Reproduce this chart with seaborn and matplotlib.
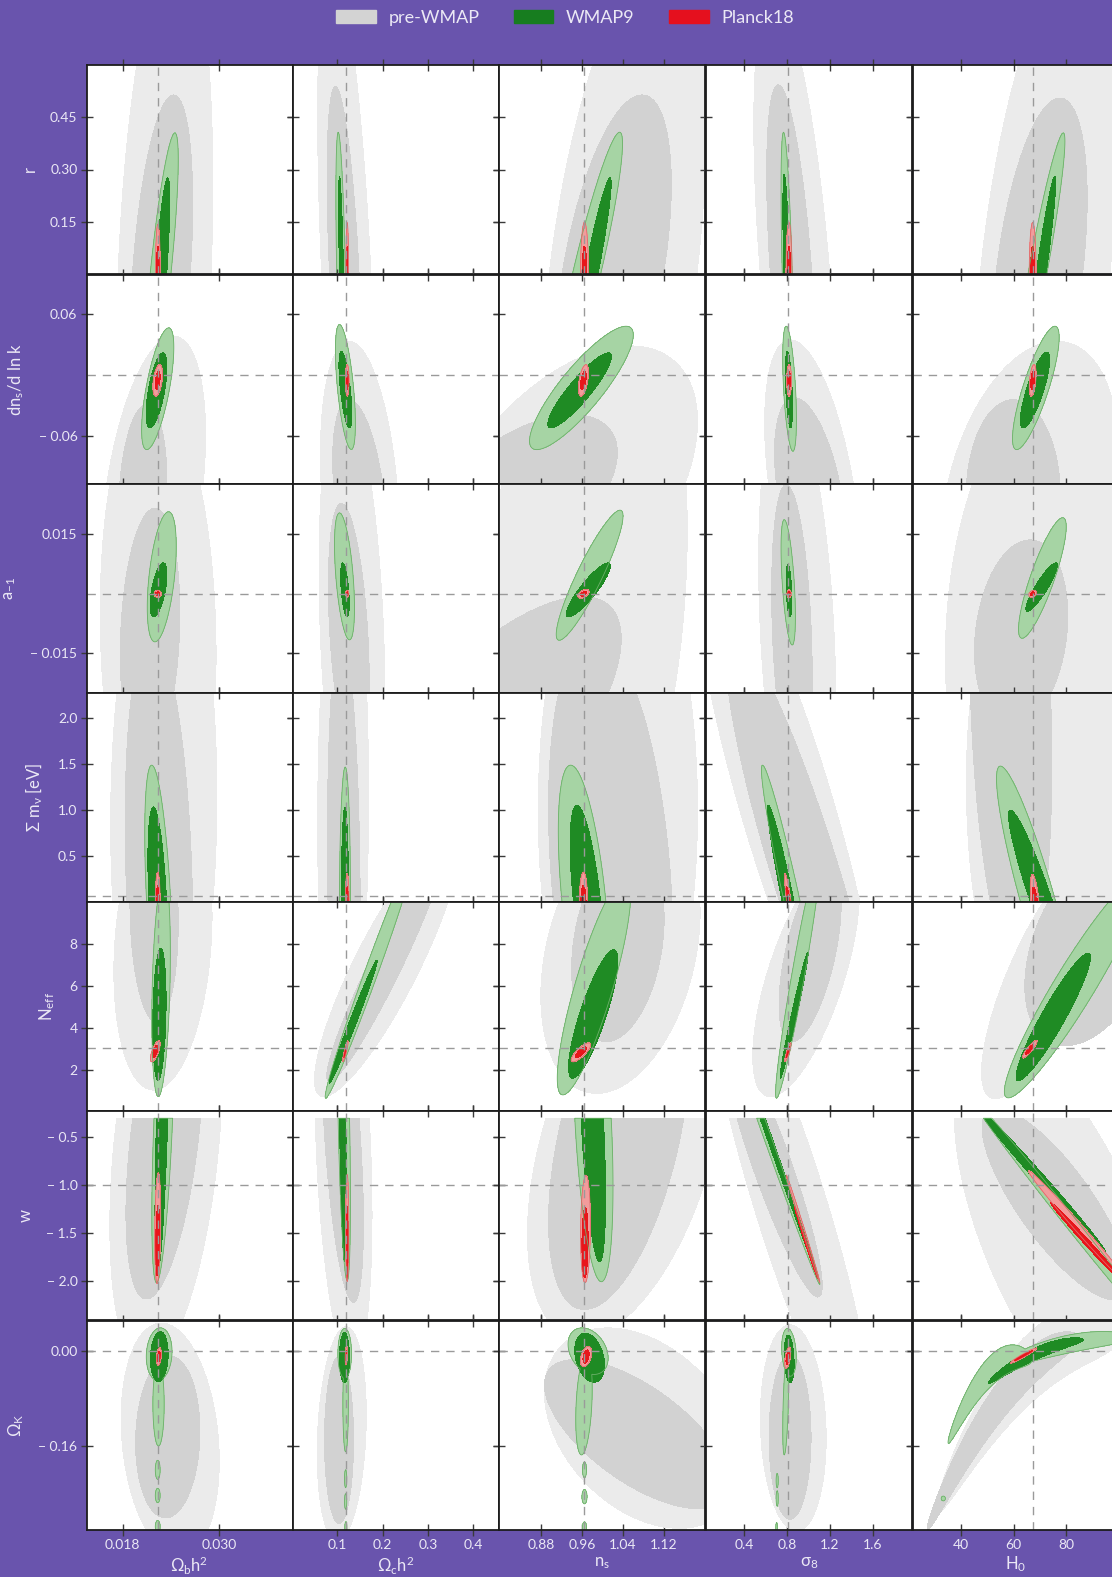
import numpy as np
import matplotlib
matplotlib.use("Agg")
import matplotlib.pyplot as plt
from matplotlib.patches import Patch
import seaborn as sns

# ---------------- data ----------------
X_LABELS = [r"$\Omega_b$h$^2$", r"$\Omega_c$h$^2$", r"n$_s$", r"$\sigma_8$", r"H$_0$"]
Y_LABELS = ["r", r"dn$_s$/d ln k", r"a$_{-1}$", r"$\Sigma$ m$_\nu$ [eV]", r"N$_{eff}$", "w", r"$\Omega_K$"]

X_LIMITS = [(0.0135, 0.0391), (0.002, 0.4555), (0.798, 1.199), (0.044, 1.966), (21.6, 100.2)]
Y_LIMITS = [(0.0, 0.6), (-0.1066, 0.0994), (-0.025, 0.0277), (0.0, 2.276),
            (0.05, 9.98), (-2.41, -0.227), (-0.30, 0.0504)]

X_TICKS = [[0.018, 0.030], [0.1, 0.2, 0.3, 0.4], [0.88, 0.96, 1.04, 1.12],
           [0.4, 0.8, 1.2, 1.6], [40, 60, 80]]
X_TICK_LABELS = [["0.018", "0.030"], ["0.1", "0.2", "0.3", "0.4"],
                 ["0.88", "0.96", "1.04", "1.12"], ["0.4", "0.8", "1.2", "1.6"],
                 ["40", "60", "80"]]
Y_TICKS = [[0.15, 0.30, 0.45], [-0.06, 0.06], [-0.015, 0.015], [0.5, 1.0, 1.5, 2.0],
           [2, 4, 6, 8], [-2.0, -1.5, -1.0, -0.5], [-0.16, 0.0]]
Y_TICK_LABELS = [["0.15", "0.30", "0.45"], ["\u2212 0.06", "0.06"],
                 ["\u2212 0.015", "0.015"], ["0.5", "1.0", "1.5", "2.0"],
                 ["2", "4", "6", "8"],
                 ["\u2212 2.0", "\u2212 1.5", "\u2212 1.0", "\u2212 0.5"],
                 ["\u2212 0.16", "0.00"]]

FID_X = [0.0224, 0.12, 0.965, 0.81, 67.4]
FID_Y = [None, 0.0, 0.0, 0.06, 3.046, -1.0, 0.0]
Y_PRIOR_MAX = [None, None, None, None, None, -0.3, None]

DATASETS = ["pre-WMAP", "WMAP9", "Planck18"]

# each region: (cx, cy, half-extent x, half-extent y, tilt[, bend]); a cell may list several
PRE_95 = [
    [(0.0232, 0, 0.006, 0.95, 0.27), (0.12, 0, 0.063, 0.9, -0.51), (1.04, 0, 0.161, 0.9, 0.45),
     (0.877, 0, 0.385, 0.8, -0.54), (72, 0, 27.7, 0.9, 0.45)],
    [(0.0218, -0.12, 0.0065, 0.1586, 0.385), (0.150, -0.12, 0.087, 0.1536, -0.27),
     (0.923, -0.12, 0.262, 0.149, 0.5), (1.043, -0.12, 0.45, 0.155, -0.47),
     (66, -0.12, 33.8, 0.1536, 0.31)],
    [(0.0224, -0.01, 0.0072, 0.06, -0.09), (0.1325, -0.01, 0.0725, 0.06, -0.275),
     (0.97, 0.0, 0.195, 0.08, 0.2), (0.8975, -0.01, 0.36, 0.06, -0.3),
     (70, -0.01, 36, 0.06, 0.1)],
    [(0.0231, 1.0, 0.0066, 3.0, 0.05), (0.113, 1.0, 0.056, 3.0, 0.05), (1.03, 1.0, 0.155, 3.0, 0.0),
     (0.81, 1.0, 0.866, 3.0, -0.855), (75, 1.0, 33, 3.0, -0.1)],
    [(0.023, 8.0, 0.0061, 6.94, 0.19), (0.209, 7.0, 0.159, 6.255, 0.872),
     (1.035, 7.5, 0.155, 6.6, 0.3), (0.979, 6.5, 0.497, 5.75, 0.668),
     (72, 6.5, 24.2, 5.85, 0.785)],
    [(0.0234, -0.6, 0.007, 2.3, 0.36), (0.1136, -0.6, 0.063, 2.3, -0.31),
     (1.047, -0.6, 0.193, 2.0, 0.456), (0.833, -1.2, 0.76, 2.5, -0.888),
     (78, -1.5, 40.6, 2.0, -0.616)],
    [(0.0239, -0.15, 0.0061, 0.196, -0.18), (0.11, -0.14, 0.054, 0.18, 0.18),
     (1.08, -0.13, 0.193, 0.168, -0.36), (0.86, -0.13, 0.307, 0.173, -0.1),
     (65, -0.0345, 35, 0.158, 0.925, -0.566)],
]
PRE_68 = [
    [(0.0228, 0, 0.0039, 0.514, 0.39), (0.1157, 0, 0.038, 0.538, -0.52), (1.02, 0, 0.114, 0.514, 0.5),
     (0.84, 0, 0.228, 0.543, -0.53), (69.8, 0, 18.3, 0.505, 0.43)],
    [(0.0205, -0.12, 0.003, 0.0912, 0.16), (0.149, -0.12, 0.059, 0.096, -0.385),
     (0.84, -0.12, 0.189, 0.0813, 0.537), (1.019, -0.12, 0.334, 0.098, -0.45),
     (59.9, -0.12, 18, 0.096, 0.0)],
    [(0.0214, -0.01, 0.0037, 0.0316, 0.165), (0.1255, -0.01, 0.045, 0.0328, -0.37),
     (0.7545, -0.04, 0.282, 0.0393, 0.73), (0.8475, -0.01, 0.189, 0.0375, -0.28),
     (62.9, -0.01, 17.8, 0.0236, 0.19)],
    [(0.0225, 0.3, 0.0042, 2.6, -0.22), (0.1145, 0.3, 0.036, 2.6, -0.15),
     (1.016, 0.3, 0.121, 2.6, -0.28), (0.979, 0.3, 0.747, 2.6, -0.9), (58.9, 2.2, 15.7, 3.0, -0.23)],
    [(0.0219, 9.5, 0.003, 5.2, -0.09), (0.206, 7.0, 0.129, 5.54, 0.953),
     (1.03, 8.0, 0.09, 4.64, 0.256), (1.017, 7.5, 0.29, 4.14, 0.576),
     (90.6, 8.0, 26.3, 4.83, 0.41)],
    [(0.0232, -0.5, 0.0048, 1.69, 0.47), (0.1117, -0.5, 0.046, 1.726, -0.52),
     (1.032, -0.5, 0.137, 1.8, 0.49), (0.665, -0.8, 0.465, 1.37, -0.914),
     (76, -1.2, 28, 1.0, -0.8)],
    [(0.0236, -0.145, 0.004, 0.1355, 0.07), (0.104, -0.15, 0.032, 0.14, 0.0),
     (1.067, -0.14, 0.18, 0.125, -0.66), (0.83, -0.145, 0.196, 0.138, 0.0),
     (56, -0.078, 29, 0.163, 0.976, -0.376)],
]
WMAP9_95 = [
    [(0.0227, 0, 0.0022, 0.405, 0.81), (0.1085, 0, 0.0114, 0.407, -0.55), (0.969, 0, 0.070, 0.407, 0.92),
     (0.804, 0, 0.058, 0.407, -0.6), (69.1, 0, 10.5, 0.405, 0.94)],
    [(0.02235, -0.0132, 0.002, 0.06, 0.68), (0.118, -0.0115, 0.022, 0.0615, -0.59),
     (0.959, -0.0124, 0.101, 0.0608, 0.86), (0.8255, -0.0132, 0.064, 0.0616, -0.49),
     (68.5, -0.0124, 8.9, 0.0608, 0.82)],
    [(0.02285, 0.0043, 0.0018, 0.0164, 0.47), (0.116, 0.0044, 0.022, 0.016, -0.5),
     (0.975, 0.0047, 0.065, 0.0164, 0.91), (0.813, 0.0029, 0.067, 0.0158, -0.55),
     (71, 0.004, 9.1, 0.0152, 0.85)],
    [(0.02247, 0, 0.00173, 1.49, -0.5), (0.117, 0, 0.012, 1.47, 0.05), (0.964, 0, 0.05, 1.49, -0.52),
     (0.85, 0, 0.287, 1.49, -0.965), (69.4, 0, 15.9, 1.48, -0.906)],
    [(0.02277, 6.0, 0.00115, 5.25, 0.3), (0.1725, 6.5, 0.099, 5.83, 0.988),
     (0.9835, 6.0, 0.0715, 5.17, 0.846), (0.905, 6.5, 0.21, 5.83, 0.958),
     (83.2, 6.0, 26.7, 5.31, 0.943)],
    [(0.02305, -0.3, 0.00143, 1.72, 0.59), (0.1145, -0.3, 0.0146, 1.7, -0.51),
     (0.9815, -0.3, 0.039, 1.71, -0.42), (0.555, -0.3, 0.554, 1.74, -0.9978),
     (82, -1.4, 37.9, 1.3, -0.997)],
    [[(0.02253, -0.006, 0.0016, 0.044, 0.1), (0.02245, -0.09, 0.0007, 0.07, 0.0),
      (0.02235, -0.2, 0.0003, 0.016, 0.0), (0.02235, -0.243, 0.0003, 0.012, 0.0),
      (0.02235, -0.295, 0.0003, 0.01, 0.0)],
     [(0.1165, -0.005, 0.015, 0.042, 0.0), (0.1185, -0.09, 0.006, 0.08, 0.0),
      (0.1185, -0.215, 0.0025, 0.015, 0.0), (0.1185, -0.253, 0.0025, 0.013, 0.0),
      (0.119, -0.297, 0.0025, 0.01, 0.0)],
     [(0.972, -0.001, 0.039, 0.039, -0.3), (0.964, -0.09, 0.016, 0.085, 0.3),
      (0.965, -0.2, 0.004, 0.013, 0.0), (0.965, -0.245, 0.005, 0.012, 0.0),
      (0.965, -0.297, 0.004, 0.01, 0.0)],
     [(0.82, -0.003, 0.068, 0.04, -0.2), (0.79, -0.09, 0.028, 0.085, 0.5),
      (0.71, -0.218, 0.01, 0.012, 0.0), (0.71, -0.248, 0.01, 0.013, 0.0),
      (0.705, -0.298, 0.008, 0.01, 0.0)],
     [(51, -0.0355, 16, 0.074, 0.936, -0.662), (80, 0.01, 25, 0.0279, 0.843, -0.412),
      (33.2, -0.248, 0.8, 0.004, 0.0)]],
]
WMAP9_68 = [
    [(0.02275, 0, 0.0011, 0.276, 0.76), (0.1095, 0, 0.0064, 0.281, -0.7), (0.978, 0, 0.039, 0.276, 0.94),
     (0.80, 0, 0.037, 0.286, -0.65), (70.5, 0, 5.6, 0.281, 0.94)],
    [(0.0222, -0.0148, 0.0013, 0.037, 0.62), (0.118, -0.014, 0.0142, 0.0378, -0.63),
     (0.9555, -0.0148, 0.062, 0.037, 0.9), (0.82, -0.014, 0.033, 0.0378, -0.45),
     (68.2, -0.0145, 5.6, 0.0373, 0.8)],
    [(0.02245, 0.001, 0.00105, 0.0068, 0.57), (0.117, 0.001, 0.0095, 0.0068, -0.5),
     (0.9725, 0.001, 0.043, 0.0068, 0.89), (0.82, 0.0008, 0.027, 0.0066, -0.37),
     (70.7, 0.0017, 6, 0.0061, 0.9)],
    [(0.02236, 0, 0.00123, 1.035, -0.45), (0.117, 0, 0.008, 1.035, 0.0), (0.97, 0, 0.033, 1.053, -0.6),
     (0.813, 0, 0.193, 1.053, -0.958), (70.7, 0, 12.6, 1.0, -0.94)],
    [(0.02256, 4.66, 0.00083, 3.13, 0.2), (0.135, 4.31, 0.053, 2.93, 0.988),
     (0.982, 4.67, 0.048, 3.05, 0.83), (0.868, 4.62, 0.131, 3.0, 0.98),
     (75.15, 4.53, 14.2, 3.03, 0.935)],
    [(0.0229, -0.3, 0.00089, 1.6, 0.62), (0.112, -0.3, 0.008, 1.5, -0.5),
     (0.98, -0.3, 0.026, 1.5, -0.55), (0.573, -0.3, 0.5006, 1.6, -0.9988),
     (70.7, -0.95, 24.3, 0.75, -0.995)],
    [(0.02255, -0.01, 0.0011, 0.042, 0.1), (0.116, -0.012, 0.011, 0.042, 0.0),
     (0.975, -0.012, 0.029, 0.041, -0.3), (0.822, -0.014, 0.046, 0.04, -0.2),
     (68.5, -0.0052, 18.1, 0.0374, 0.963, -0.342)],
]
PLANCK_95 = [
    [(0.02237, 0, 0.0003, 0.143, 0.0), (0.122, 0, 0.003, 0.148, 0.0), (0.965, 0, 0.0077, 0.148, 0.0),
     (0.82, 0, 0.028, 0.148, 0.0), (67.3, 0, 1.3, 0.148, 0.0)],
    [(0.02235, -0.005, 0.0006, 0.0156, 0.4), (0.122, -0.005, 0.004, 0.0156, 0.0),
     (0.963, -0.005, 0.0097, 0.0156, 0.5), (0.821, -0.005, 0.022, 0.0156, 0.0),
     (67.3, -0.005, 1.3, 0.0156, 0.4)],
    [(0.02235, 0, 0.00045, 0.0009, 0.0), (0.122, 0, 0.0035, 0.0009, 0.0), (0.963, 0, 0.011, 0.0011, 0.5),
     (0.821, 0, 0.02, 0.001, 0.0), (67.3, 0, 1.5, 0.0009, 0.3)],
    [(0.02235, 0, 0.0003, 0.325, 0.0), (0.122, 0, 0.004, 0.31, 0.0), (0.963, 0, 0.008, 0.325, 0.0),
     (0.82, 0, 0.042, 0.31, -0.88), (68.2, 0, 1.8, 0.3, -0.55)],
    [(0.02205, 2.9, 0.0006, 0.5, 0.7), (0.118, 2.9, 0.006, 0.5, 0.9), (0.958, 2.85, 0.019, 0.45, 0.8),
     (0.81, 2.85, 0.03, 0.45, 0.9), (66.2, 3.0, 2.8, 0.42, 0.9)],
    [(0.02235, -1.45, 0.00037, 0.58, 0.2), (0.122, -1.45, 0.0035, 0.56, 0.0),
     (0.967, -1.46, 0.0095, 0.56, 0.1), (0.951, -1.456, 0.157, 0.563, -0.997),
     (85, -1.45, 19.3, 0.6, -0.994)],
    [(0.0225, -0.01, 0.0003, 0.015, 0.3), (0.12, -0.008, 0.0025, 0.016, 0.3),
     (0.968, -0.01, 0.011, 0.017, 0.4), (0.808, -0.012, 0.028, 0.018, 0.5),
     (63.8, -0.0085, 5.1, 0.0129, 0.97)],
]
PLANCK_68 = [
    [(0.02237, 0, 0.00018, 0.08, 0.0), (0.122, 0, 0.0018, 0.08, 0.0), (0.965, 0, 0.0045, 0.08, 0.0),
     (0.82, 0, 0.016, 0.08, 0.0), (67.3, 0, 0.8, 0.08, 0.0)],
    [(0.02235, -0.005, 0.0003, 0.009, 0.4), (0.122, -0.005, 0.0025, 0.009, 0.0),
     (0.963, -0.005, 0.0055, 0.009, 0.5), (0.821, -0.005, 0.013, 0.009, 0.0),
     (67.3, -0.005, 0.75, 0.009, 0.4)],
    [(0.02235, 0, 0.00025, 0.0005, 0.0), (0.122, 0, 0.002, 0.0005, 0.0), (0.963, 0, 0.006, 0.0006, 0.5),
     (0.821, 0, 0.012, 0.0006, 0.0), (67.3, 0, 0.8, 0.0005, 0.3)],
    [(0.02235, 0, 0.00018, 0.18, 0.0), (0.122, 0, 0.0025, 0.17, 0.0), (0.963, 0, 0.005, 0.18, 0.0),
     (0.82, 0, 0.028, 0.17, -0.85), (68.2, 0, 1.1, 0.16, -0.55)],
    [(0.02205, 2.9, 0.00035, 0.3, 0.7), (0.118, 2.9, 0.0035, 0.3, 0.9), (0.958, 2.85, 0.011, 0.26, 0.8),
     (0.81, 2.85, 0.018, 0.26, 0.9), (66.2, 3.0, 1.6, 0.24, 0.9)],
    [(0.02235, -1.58, 0.00025, 0.37, 0.2), (0.122, -1.6, 0.0022, 0.38, 0.0),
     (0.966, -1.6, 0.006, 0.37, 0.1), (0.98, -1.6, 0.11, 0.38, -0.995),
     (88, -1.6, 14, 0.42, -0.995)],
    [(0.0225, -0.01, 0.00017, 0.009, 0.3), (0.12, -0.008, 0.0015, 0.009, 0.3),
     (0.968, -0.01, 0.006, 0.011, 0.4), (0.808, -0.012, 0.016, 0.011, 0.5),
     (63.8, -0.0085, 3.5, 0.0085, 0.975)],
]

# ---------------- style ----------------
BG = "#6954ad"
TXT = "#ebe8f5"
COL_PRE = ("#ebebeb", "#d2d2d2")
COL_WMAP = ("#a6d4a4", "#1f8b24")
COL_PL = ("#f29c9c", "#e8161b")
LEGEND_COLORS = ["#d3d3d3", "#177d1f", "#e5101e"]

sns.set_theme(style="ticks")
plt.rcParams["font.family"] = ["Lato", "DejaVu Sans"]
plt.rcParams["mathtext.fontset"] = "dejavusans"
plt.rcParams["mathtext.default"] = "regular"
plt.rcParams["axes.unicode_minus"] = True

FIG_W, FIG_H = 1112, 1577
COL_LEFT = [86.5, 292.7, 498.7, 705.8, 912.9]
COL_W = 206.0
ROW_TOP = [65.0, 274.5, 484.0, 693.0, 902.3, 1111.0, 1320.5]
ROW_H = 209.0

fig = plt.figure(figsize=(FIG_W / 100, FIG_H / 100), dpi=100, facecolor=BG)


def as_list(cell):
    if isinstance(cell[0], (int, float)):
        return [cell]
    return cell


def field(X, Y, cell):
    f = np.full(X.shape, 1e6)
    for e in as_list(cell):
        cx, cy, hx, hy, rho = e[:5]
        bend = e[5] if len(e) > 5 else 0.0
        u = (X - cx) / hx
        v = (Y - cy) / hy - bend * u ** 2
        q = (u ** 2 - 2 * rho * u * v + v ** 2) / (1 - rho ** 2)
        f = np.minimum(f, q)
    return f


layers = [
    (PRE_95, COL_PRE[0], None), (PRE_68, COL_PRE[1], None),
    (WMAP9_95, COL_WMAP[0], "#6cb069"), (WMAP9_68, COL_WMAP[1], None),
    (PLANCK_95, COL_PL[0], "#e06a6a"), (PLANCK_68, COL_PL[1], None),
]

for i in range(7):
    for j in range(5):
        rect = [COL_LEFT[j] / FIG_W, 1 - (ROW_TOP[i] + ROW_H) / FIG_H, COL_W / FIG_W, ROW_H / FIG_H]
        ax = fig.add_axes(rect)
        ax.set_facecolor("white")
        x0, x1 = X_LIMITS[j]
        y0, y1 = Y_LIMITS[i]
        xs = np.linspace(x0, x1, 520)
        ys = np.linspace(y0, y1, 520)
        X, Y = np.meshgrid(xs, ys)
        for data, color, edge in layers:
            f = field(X, Y, data[i][j])
            if Y_PRIOR_MAX[i] is not None:
                f = np.where(Y > Y_PRIOR_MAX[i], 1e6, f)
            if np.nanmin(f) < 1:
                ax.contourf(X, Y, f, levels=[-1.0, 1.0], colors=[color], zorder=1)
                if edge is not None:
                    ax.contour(X, Y, f, levels=[1.0], colors=[edge], linewidths=0.6, zorder=1.5)
        ax.axvline(FID_X[j], color="#9a9a9a", lw=1.0, ls=(0, (6, 5)), zorder=3)
        if FID_Y[i] is not None:
            ax.axhline(FID_Y[i], color="#9a9a9a", lw=1.0, ls=(0, (6, 5)), zorder=3)
        ax.set_xlim(x0, x1)
        ax.set_ylim(y0, y1)
        ax.set_xticks(X_TICKS[j])
        ax.set_yticks(Y_TICKS[i])
        ax.tick_params(direction="inout", length=9, width=1.0, color="#3a3a3a",
                       top=True, right=True, labelcolor=TXT, labelsize=10, pad=2)
        if i == 6:
            ax.set_xticklabels(X_TICK_LABELS[j])
            ax.set_xlabel(X_LABELS[j], color=TXT, fontsize=12, labelpad=3)
        else:
            ax.tick_params(labelbottom=False)
        if j == 0:
            ax.set_yticklabels(Y_TICK_LABELS[i])
            ax.set_ylabel(Y_LABELS[i], color=TXT, fontsize=12, labelpad=9)
        else:
            ax.tick_params(labelleft=False)
        for s in ax.spines.values():
            s.set_color("#1c1c1c")
            s.set_linewidth(1.3)
            s.set_zorder(4)

handles = [Patch(facecolor=c, edgecolor=c) for c in LEGEND_COLORS]
fig.legend(handles, DATASETS, loc="center", bbox_to_anchor=(0.508, 1 - 18 / FIG_H), ncol=3,
           frameon=False, fontsize=13, labelcolor=TXT, handlelength=2.2, handleheight=0.7,
           handletextpad=0.7, columnspacing=1.9)

fig.savefig("out.png", dpi=100, facecolor=BG)
